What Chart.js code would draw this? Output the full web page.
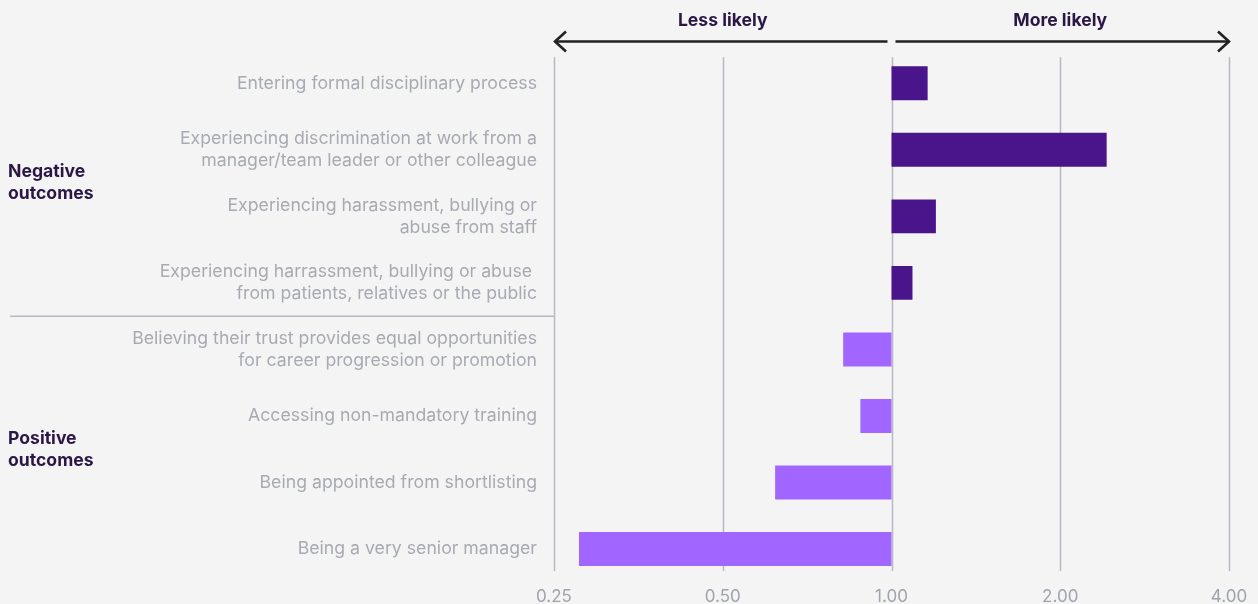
<!DOCTYPE html>
<html>
<head>
<meta charset="utf-8">
<script src="https://cdn.jsdelivr.net/npm/chart.js@4"></script>
<style>
html,body{margin:0;padding:0;background:#f4f4f4;}
#wrap{width:1258px;height:604px;position:relative;}
</style>
</head>
<body>
<div id="wrap"><canvas id="c" width="1258" height="604"></canvas></div>
<script>
// ---- data ----
const categories = [
  "Entering formal disciplinary process",
  ["Experiencing discrimination at work from a", "manager/team leader or other colleague"],
  ["Experiencing harassment, bullying or", "abuse from staff"],
  ["Experiencing harrassment, bullying or abuse ", "from patients, relatives or the public"],
  ["Believing their trust provides equal opportunities", "for career progression or promotion"],
  "Accessing non-mandatory training",
  "Being appointed from shortlisting",
  "Being a very senior manager"
];
const ratios = [1.16, 2.42, 1.20, 1.09, 0.82, 0.88, 0.62, 0.277];
const groups = ["neg","neg","neg","neg","pos","pos","pos","pos"];
const groupLabels = [["Negative","outcomes"],["Positive","outcomes"]];
const tickValues = [0.25, 0.5, 1, 2, 4];
const baseline = 1;
const directionLabels = ["Less likely", "More likely"];

const FONT = "Inter, 'Noto Sans', sans-serif";
const colNeg = "#4a148a";
const colPos = "#a066ff";
const gridCol = "#b6b9c1";

const decor = {
  id: 'decor',
  beforeDatasetsDraw(chart) {
    const ctx = chart.ctx, x = chart.scales.x, y = chart.scales.y;
    const top = y.getPixelForValue(0) - 26;
    const bottom = y.getPixelForValue(categories.length - 1) + 22;
    ctx.save();
    ctx.strokeStyle = gridCol;
    ctx.lineWidth = 1.5;
    tickValues.forEach(v => {
      const px = Math.round(x.getPixelForValue(v)) + 0.5;
      ctx.beginPath(); ctx.moveTo(px, top); ctx.lineTo(px, bottom); ctx.stroke();
    });
    // separator between groups
    const sy = (y.getPixelForValue(3) + y.getPixelForValue(4)) / 2;
    ctx.beginPath(); ctx.moveTo(10, sy); ctx.lineTo(x.getPixelForValue(tickValues[0]), sy); ctx.stroke();
    ctx.restore();
  },
  afterDraw(chart) {
    const ctx = chart.ctx, x = chart.scales.x, y = chart.scales.y;
    ctx.save();
    // group labels
    ctx.fillStyle = "#2a1745";
    ctx.font = "bold 17.6px " + FONT;
    ctx.textAlign = "left"; ctx.textBaseline = "middle";
    const mids = [
      (y.getPixelForValue(1) + y.getPixelForValue(2)) / 2,
      (y.getPixelForValue(5) + y.getPixelForValue(6)) / 2
    ];
    groupLabels.forEach((lines, i) => {
      lines.forEach((t, j) => ctx.fillText(t, 8, mids[i] - 11 + j * 22));
    });
    // direction labels
    ctx.textAlign = "center";
    ctx.fillText(directionLabels[0], x.getPixelForValue(0.5), 21);
    ctx.fillText(directionLabels[1], x.getPixelForValue(2), 21);
    // arrows
    const ay = 41.5;
    const xl = x.getPixelForValue(tickValues[0]) + 1;
    const xm = x.getPixelForValue(baseline);
    const xr = x.getPixelForValue(tickValues[tickValues.length - 1]);
    ctx.strokeStyle = "#222";
    ctx.lineWidth = 2.6;
    ctx.lineCap = "butt";
    ctx.beginPath(); ctx.moveTo(xl, ay); ctx.lineTo(xm - 4, ay); ctx.stroke();
    ctx.beginPath(); ctx.moveTo(xm + 4, ay); ctx.lineTo(xr, ay); ctx.stroke();
    ctx.lineJoin = "miter";
    ctx.beginPath(); ctx.moveTo(xl + 11, ay - 10); ctx.lineTo(xl, ay); ctx.lineTo(xl + 11, ay + 10); ctx.stroke();
    ctx.beginPath(); ctx.moveTo(xr - 11, ay - 10); ctx.lineTo(xr, ay); ctx.lineTo(xr - 11, ay + 10); ctx.stroke();
    ctx.restore();
  }
};

new Chart(document.getElementById('c'), {
  type: 'bar',
  data: {
    labels: categories,
    datasets: [{
      data: ratios.map(v => [baseline, v]),
      backgroundColor: groups.map(g => g === "neg" ? colNeg : colPos),
      borderWidth: 0,
      barPercentage: 0.51,
      categoryPercentage: 1
    }]
  },
  options: {
    indexAxis: 'y',
    responsive: false,
    animation: false,
    layout: { padding: { top: 50, right: 29, bottom: 0, left: 0 } },
    plugins: { legend: { display: false }, tooltip: { enabled: false } },
    scales: {
      x: {
        type: 'logarithmic',
        min: tickValues[0],
        max: tickValues[tickValues.length - 1],
        afterBuildTicks(s) { s.ticks = tickValues.map(v => ({ value: v })); },
        afterFit(s) { s.height = 21.7; s.paddingLeft = 0; s.paddingRight = 0; },
        grid: { display: false, drawTicks: false },
        border: { display: false },
        ticks: {
          autoSkip: false, maxRotation: 0, padding: 4,
          color: "#a0a3ad",
          font: { family: FONT, size: 17 },
          callback: v => Number(v).toFixed(2)
        }
      },
      y: {
        afterFit(s) { s.width = 554; s.paddingTop = 0; s.paddingBottom = 0; },
        grid: { display: false, drawTicks: false },
        border: { display: false },
        ticks: {
          autoSkip: false, padding: 17,
          color: "#a8aab3",
          font: { family: FONT, size: 17.7, lineHeight: 22 / 17.7 }
        }
      }
    }
  },
  plugins: [decor]
});
</script>
</body>
</html>
